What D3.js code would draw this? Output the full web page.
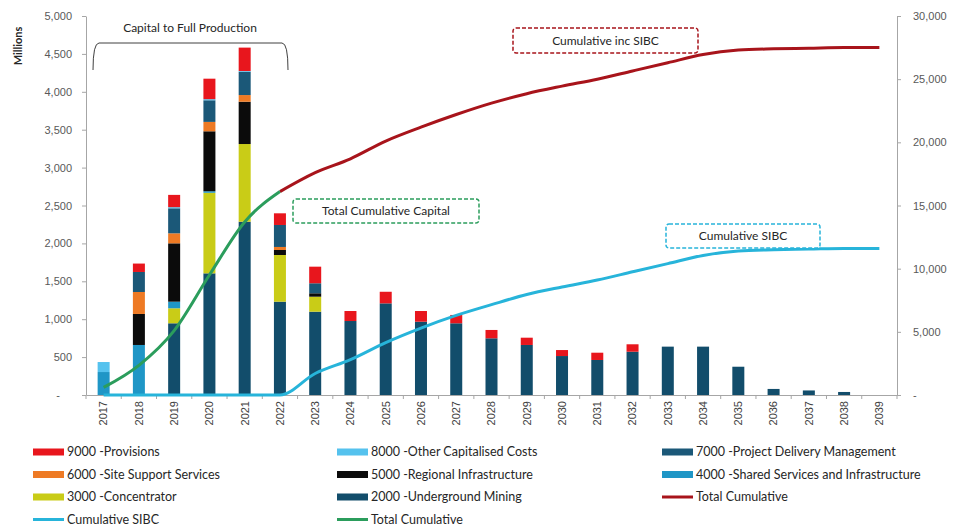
<!DOCTYPE html>
<html>
<head>
<meta charset="utf-8">
<script src="https://cdn.jsdelivr.net/npm/d3@7"></script>
<style>
  html, body { margin: 0; padding: 0; background: #fff; }
  svg { display: block; font-family: Lato, "Open Sans", sans-serif; }
</style>
</head>
<body>
<svg id="chart" width="963" height="529"></svg>
<script>
// Capital profile by cost area (millions), with cumulative totals on the secondary axis
const years = ["2017","2018","2019","2020","2021","2022","2023","2024","2025","2026","2027","2028",
               "2029","2030","2031","2032","2033","2034","2035","2036","2037","2038","2039"];

const underground2000 = [0, 0, 946, 1605, 2286, 1231, 1099, 976, 1209, 967, 946, 748, 660, 514, 462, 571, 638, 638, 373, 80, 60, 40, 0];
const concentrator3000 = [0, 0, 198, 1063, 1025, 616, 198, 0, 0, 0, 0, 0, 0, 0, 0, 0, 0, 0, 0, 0, 0, 0, 0];
const shared4000 = [303, 660, 87, 20, 0, 0, 0, 0, 0, 0, 0, 0, 0, 0, 0, 0, 0, 0, 0, 0, 0, 0, 0];
const regional5000 = [0, 409, 770, 791, 558, 66, 45, 0, 0, 0, 0, 0, 0, 0, 0, 0, 0, 0, 0, 0, 0, 0, 0];
const siteSupport6000 = [0, 290, 132, 124, 88, 40, 0, 0, 0, 0, 0, 0, 0, 0, 0, 0, 0, 0, 0, 0, 0, 0, 0];
const projectDelivery7000 = [0, 264, 330, 285, 307, 290, 132, 0, 0, 0, 0, 0, 0, 0, 0, 0, 0, 0, 0, 0, 0, 0, 0];
const otherCapitalised8000 = [132, 0, 15, 15, 10, 0, 0, 0, 0, 0, 0, 0, 0, 0, 0, 0, 0, 0, 0, 0, 0, 0, 0];
const provisions9000 = [0, 111, 162, 270, 309, 154, 219, 132, 153, 141, 110, 110, 96, 79, 96, 98, 0, 0, 0, 0, 0, 0, 0];

// Cumulative series (secondary axis)
const totalCumulativeCapital = [600, 2350, 5100, 9500, 13700, 16100, null, null, null, null, null, null,
                                null, null, null, null, null, null, null, null, null, null, null];
const totalCumulativeIncSibc = [null, null, null, null, null, 16100, 17600, 18700, 20100, 21200, 22200, 23100,
                                23850, 24450, 25000, 25650, 26300, 26950, 27300, 27400, 27450, 27500, 27500];
const cumulativeSibc = [0, 0, 0, 0, 0, 0, 1700, 2800, 4150, 5300, 6300, 7150,
                        7950, 8550, 9100, 9750, 10400, 11050, 11400, 11500, 11550, 11600, 11600];

const leftTicks = [0, 500, 1000, 1500, 2000, 2500, 3000, 3500, 4000, 4500, 5000];
const rightTicks = [0, 5000, 10000, 15000, 20000, 25000, 30000];

const barSeries = [
  { key: "2000 -Underground Mining", values: underground2000, color: "#124d6b" },
  { key: "3000 -Concentrator", values: concentrator3000, color: "#c9cc17" },
  { key: "4000 -Shared Services and Infrastructure", values: shared4000, color: "#1f96c6" },
  { key: "5000 -Regional Infrastructure", values: regional5000, color: "#0b0b0b" },
  { key: "6000 -Site Support Services", values: siteSupport6000, color: "#ee7a24" },
  { key: "7000 -Project Delivery Management", values: projectDelivery7000, color: "#1b5878" },
  { key: "8000 -Other Capitalised Costs", values: otherCapitalised8000, color: "#55c2ee" },
  { key: "9000 -Provisions", values: provisions9000, color: "#e8161d" }
];

const lineColors = { red: "#a8141b", green: "#2b9d5c", cyan: "#27b4da" };

const svg = d3.select("#chart");
const plot = { left: 86, right: 897, top: 16, bottom: 395 };

const x = d3.scaleBand().domain(years).range([plot.left, plot.right]).padding(0);
const barW = 12;
const cx = d => x(d) + x.bandwidth() / 2;
const yL = d3.scaleLinear().domain([0, 5000]).range([plot.bottom, plot.top]);
const yR = d3.scaleLinear().domain([0, 30000]).range([plot.bottom, plot.top]);

// Stacked bars
const table = years.map((yr, i) => {
  const row = { year: yr };
  barSeries.forEach(s => row[s.key] = s.values[i]);
  return row;
});
const stacked = d3.stack().keys(barSeries.map(s => s.key))(table);

svg.append("g").selectAll("g").data(stacked).join("g")
  .attr("fill", (d, i) => barSeries[i].color)
  .selectAll("rect").data(d => d).join("rect")
  .attr("x", d => cx(d.data.year) - barW / 2)
  .attr("width", barW)
  .attr("y", d => yL(d[1]))
  .attr("height", d => Math.max(0, yL(d[0]) - yL(d[1])));

// Axes
const fmt = d3.format(",");
const leftAxis = svg.append("g").attr("transform", `translate(${plot.left},0)`)
  .call(d3.axisLeft(yL).tickValues(leftTicks).tickSize(4).tickSizeOuter(0).tickPadding(10)
        .tickFormat(d => d === 0 ? "-" : fmt(d)));
leftAxis.select(".domain").attr("stroke", "#a6a6a6");
leftAxis.selectAll(".tick line").attr("stroke", "#a6a6a6");
leftAxis.selectAll(".tick text").attr("fill", "#595959").attr("font-size", 11)
  .filter(d => d === 0).attr("dx", -12);

const rightAxis = svg.append("g").attr("transform", `translate(${plot.right},0)`)
  .call(d3.axisRight(yR).tickValues(rightTicks).tickSize(4).tickSizeOuter(0).tickPadding(12)
        .tickFormat(d => d === 0 ? "-" : fmt(d)));
rightAxis.select(".domain").attr("stroke", "#a6a6a6");
rightAxis.selectAll(".tick line").attr("stroke", "#a6a6a6");
rightAxis.selectAll(".tick text").attr("fill", "#595959").attr("font-size", 11);

const bottomAxis = svg.append("g").attr("transform", `translate(0,${plot.bottom})`)
  .call(d3.axisBottom(x).tickSize(0).tickSizeOuter(0).tickPadding(0));
bottomAxis.select(".domain").attr("stroke", "#a6a6a6");
bottomAxis.selectAll(".tick text")
  .attr("fill", "#404040").attr("font-size", 11)
  .attr("text-anchor", "end")
  .attr("transform", "translate(0,6) rotate(-90)")
  .attr("x", 0).attr("y", 0).attr("dy", "0.35em");
// category boundary ticks
svg.append("g").selectAll("line").data(years.concat([null])).join("line")
  .attr("x1", (d, i) => plot.left + i * x.step()).attr("x2", (d, i) => plot.left + i * x.step())
  .attr("y1", plot.bottom).attr("y2", plot.bottom + 4)
  .attr("stroke", "#a6a6a6");

svg.append("text").attr("transform", "translate(22,46) rotate(-90)")
  .attr("text-anchor", "middle").attr("font-size", 11).attr("font-weight", "bold")
  .attr("fill", "#262626").text("Millions");

// Cumulative lines (smoothed)
const line = d3.line()
  .defined(d => d.v !== null)
  .curve(d3.curveMonotoneX)
  .x(d => cx(d.year))
  .y(d => yR(d.v));
const asPoints = arr => years.map((yr, i) => ({ year: yr, v: arr[i] }));

svg.append("path").datum(asPoints(cumulativeSibc)).attr("d", line)
  .attr("fill", "none").attr("stroke", lineColors.cyan).attr("stroke-width", 3);
svg.append("path").datum(asPoints(totalCumulativeIncSibc)).attr("d", line)
  .attr("fill", "none").attr("stroke", lineColors.red).attr("stroke-width", 3);
svg.append("path").datum(asPoints(totalCumulativeCapital)).attr("d", line)
  .attr("fill", "none").attr("stroke", lineColors.green).attr("stroke-width", 3);

// Annotations
svg.append("path")
  .attr("d", "M93,70 Q93,43 99,43 L282,43 Q288,43 288,70")
  .attr("fill", "none").attr("stroke", "#404040").attr("stroke-width", 1);
svg.append("text").attr("x", 190).attr("y", 32).attr("text-anchor", "middle")
  .attr("font-size", 12).attr("fill", "#262626").text("Capital to Full Production");

const callouts = [
  { text: "Cumulative inc SIBC", x: 513, y: 28, w: 185, h: 25, color: lineColors.red },
  { text: "Total Cumulative Capital", x: 293, y: 199, w: 186, h: 24, color: lineColors.green },
  { text: "Cumulative SIBC", x: 666, y: 224, w: 154, h: 24, color: lineColors.cyan }
];
const cg = svg.append("g").selectAll("g").data(callouts).join("g");
cg.append("rect")
  .attr("x", d => d.x).attr("y", d => d.y).attr("width", d => d.w).attr("height", d => d.h)
  .attr("rx", 3).attr("fill", "#fff").attr("stroke", d => d.color)
  .attr("stroke-width", 1.5).attr("stroke-dasharray", "4,2");
cg.append("text")
  .attr("x", d => d.x + d.w / 2).attr("y", d => d.y + d.h / 2).attr("dy", "0.35em")
  .attr("text-anchor", "middle").attr("font-size", 12).attr("fill", "#262626")
  .text(d => d.text);

// Legend
const byKey = k => barSeries.find(s => s.key === k);
const legendItems = [
  { label: "9000 -Provisions", type: "bar" },
  { label: "8000 -Other Capitalised Costs", type: "bar" },
  { label: "7000 -Project Delivery Management", type: "bar" },
  { label: "6000 -Site Support Services", type: "bar" },
  { label: "5000 -Regional Infrastructure", type: "bar" },
  { label: "4000 -Shared Services and Infrastructure", type: "bar" },
  { label: "3000 -Concentrator", type: "bar" },
  { label: "2000 -Underground Mining", type: "bar" },
  { label: "Total Cumulative", type: "line", color: lineColors.red },
  { label: "Cumulative SIBC", type: "line", color: lineColors.cyan },
  { label: "Total Cumulative", type: "line", color: lineColors.green }
];
const colX = [33, 337, 662];
const rowY = [452, 474.5, 497, 519.5];
const lg = svg.append("g").selectAll("g").data(legendItems).join("g")
  .attr("transform", (d, i) => `translate(${colX[i % 3]},${rowY[Math.floor(i / 3)]})`);
lg.filter(d => d.type === "bar").append("rect")
  .attr("x", 0).attr("y", -3.5).attr("width", 31).attr("height", 7)
  .attr("fill", d => byKey(d.label).color);
lg.filter(d => d.type === "line").append("line")
  .attr("x1", 0).attr("x2", 31).attr("y1", 0).attr("y2", 0)
  .attr("stroke", d => d.color).attr("stroke-width", 3);
lg.append("text").attr("x", 34).attr("y", 0).attr("dy", "0.35em")
  .attr("font-size", 12.5).attr("fill", "#262626").text(d => d.label);
</script>
</body>
</html>
